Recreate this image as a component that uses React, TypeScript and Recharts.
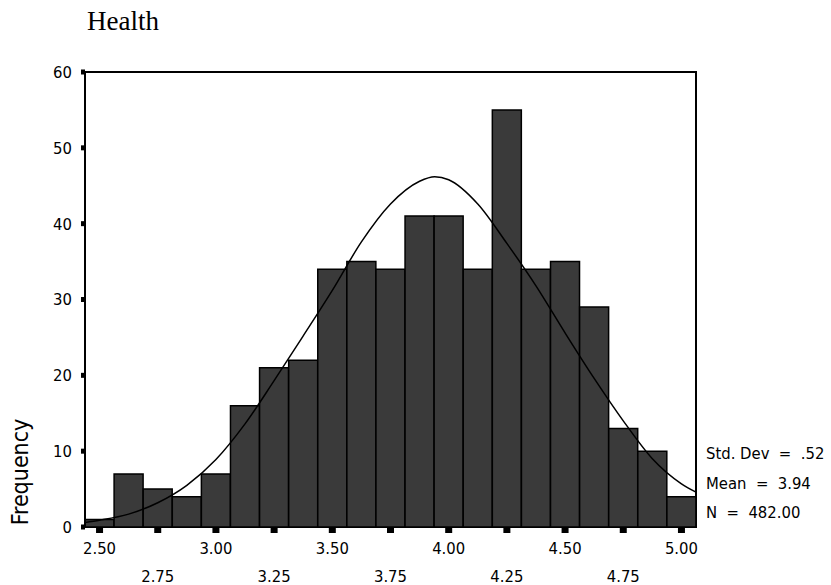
import {
  Bar,
  ComposedChart,
  Line,
  ReferenceArea,
  XAxis,
  YAxis,
} from "recharts";

// histogram bins (centre of each 0.125 wide bin) and their counts
const BIN_MIDS = [
  "2.500", "2.625", "2.750", "2.875", "3.000", "3.125", "3.250", "3.375",
  "3.500", "3.625", "3.750", "3.875", "4.000", "4.125", "4.250", "4.375",
  "4.500", "4.625", "4.750", "4.875", "5.000",
];
const COUNTS = [1, 7, 5, 4, 7, 16, 21, 22, 34, 35, 34, 41, 41, 34, 55, 34, 35, 29, 13, 10, 4];

// fitted normal curve
const CURVE_X = [
  2.4375, 2.5, 2.625, 2.75, 2.875, 3.0, 3.125, 3.25, 3.375, 3.5, 3.625, 3.75,
  3.875, 3.94, 4.0, 4.125, 4.25, 4.375, 4.5, 4.625, 4.75, 4.875, 5.0, 5.0625,
];
const CURVE_Y = [
  0.6, 0.9, 1.7, 3.2, 5.5, 8.9, 13.6, 19.3, 25.2, 31.2, 37.6, 42.6,
  45.6, 46.2, 45.8, 42.6, 37.4, 31.8, 25.6, 19.6, 14.0, 9.0, 5.7, 4.6,
];

const X_TICKS = [2.5, 2.75, 3.0, 3.25, 3.5, 3.75, 4.0, 4.25, 4.5, 4.75, 5.0];
const Y_TICKS = [0, 10, 20, 30, 40, 50, 60];
const STATS = ["Std. Dev  =  .52", "Mean  =  3.94", "N  =  482.00"];

const TICK_FONT = "'DejaVu Sans Condensed', 'DejaVu Sans', sans-serif";

const W = 831;
const H = 585;
const TOP = 72;
const X_AXIS_H = 58;
const PLOT_BOTTOM = H - X_AXIS_H;

const bins = BIN_MIDS.map((mid, i) => ({ mid, count: COUNTS[i] }));
const curve = CURVE_X.map((x, i) => ({ x, y: CURVE_Y[i] }));

function XTick({ x, payload }: any) {
  const row = Math.round((payload.value - 2.5) / 0.25) % 2;
  return (
    <g>
      <rect x={x - 3.5} y={PLOT_BOTTOM + 1} width={7} height={5} fill="#000" />
      <text
        x={x}
        y={PLOT_BOTTOM + (row === 0 ? 27 : 55)}
        textAnchor="middle"
        fontFamily={TICK_FONT}
        fontSize={16.5}
        fill="#000"
      >
        {Number(payload.value).toFixed(2)}
      </text>
    </g>
  );
}

function YTick({ x, y, payload }: any) {
  return (
    <g>
      <rect x={x - 4} y={y - 2.5} width={4} height={5} fill="#000" />
      <text
        x={x - 13}
        y={y}
        dy="0.36em"
        textAnchor="end"
        fontFamily={TICK_FONT}
        fontSize={16.5}
        fill="#000"
      >
        {payload.value}
      </text>
    </g>
  );
}

export default function App() {
  return (
    <div style={{ position: "absolute", left: 0, top: 0, width: W, height: H, background: "#fff" }}>
      <ComposedChart
        width={W}
        height={H}
        data={bins}
        margin={{ top: TOP, right: 135, left: 0, bottom: 0 }}
        barCategoryGap={0}
        barGap={0}
      >
        <XAxis xAxisId="bins" dataKey="mid" type="category" hide />
        <XAxis
          xAxisId="val"
          dataKey="x"
          type="number"
          domain={[2.4375, 5.0625]}
          ticks={X_TICKS}
          interval={0}
          height={X_AXIS_H}
          tickSize={0}
          tickMargin={0}
          tickLine={false}
          axisLine={false}
          tick={<XTick />}
        />
        <YAxis
          domain={[0, 60]}
          ticks={Y_TICKS}
          interval={0}
          width={85}
          tickSize={0}
          tickMargin={0}
          tickLine={false}
          axisLine={{ stroke: "#000", strokeWidth: 2 }}
          tick={<YTick />}
        />
        <Bar
          xAxisId="bins"
          dataKey="count"
          fill="#3a3a3a"
          stroke="#000"
          strokeWidth={1.5}
          isAnimationActive={false}
        />
        <Line
          xAxisId="val"
          data={curve}
          dataKey="y"
          type="monotone"
          stroke="#000"
          strokeWidth={1.5}
          dot={false}
          activeDot={false}
          isAnimationActive={false}
        />
        <ReferenceArea
          xAxisId="val"
          x1={2.4375}
          x2={5.0625}
          y1={0}
          y2={60}
          fill="none"
          stroke="#000"
          strokeWidth={2}
          strokeOpacity={1}
        />
      </ComposedChart>
      <svg
        width={W}
        height={H}
        style={{ position: "absolute", left: 0, top: 0, pointerEvents: "none" }}
      >
        <text x={87} y={30} fontFamily="'Liberation Serif', serif" fontSize={27} fill="#000">
          Health
        </text>
        <text
          x={0}
          y={0}
          transform="translate(28 472) rotate(-90)"
          textAnchor="middle"
          fontFamily={TICK_FONT}
          fontSize={23}
          fill="#000"
        >
          Frequency
        </text>
        {STATS.map((s, i) => (
          <text
            key={s}
            x={706}
            y={459 + i * 29.5}
            fontFamily={TICK_FONT}
            fontSize={16.5}
            fill="#000"
            style={{ whiteSpace: "pre" }}
          >
            {s}
          </text>
        ))}
      </svg>
    </div>
  );
}
